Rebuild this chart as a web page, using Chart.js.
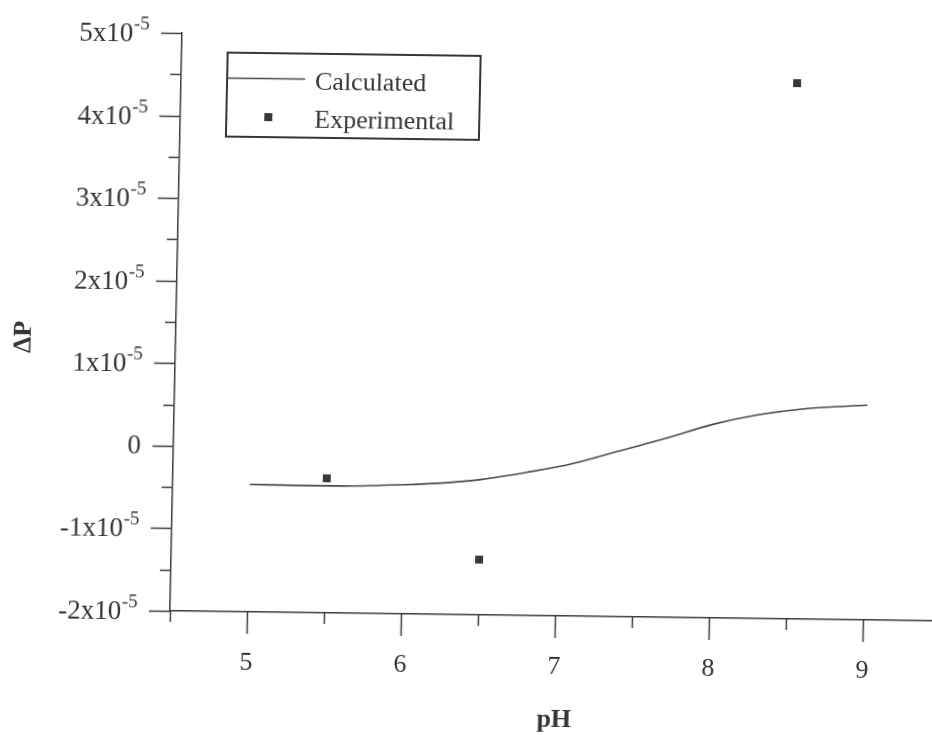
<!DOCTYPE html>
<html>
<head>
<meta charset="utf-8">
<title>ΔP vs pH</title>
<script src="https://cdn.jsdelivr.net/npm/chart.js@4.4.1/dist/chart.umd.min.js"></script>
<style>
  html, body { margin: 0; padding: 0; background: #fff; overflow: hidden; width: 932px; height: 735px; }
  /* the printed plot sits slightly tilted on the page */
  #wrap { position: absolute; left: 0; top: 0; width: 950px; height: 735px;
          transform-origin: 170px 611px; transform: matrix(1, 0.0131, -0.0209, 1, 0, 0); }
  canvas { display: block; }
</style>
</head>
<body>
<div id="wrap"><canvas id="chart" width="950" height="735"></canvas></div>
<script>
// Calculated curve
const calcPH = [5.0, 5.3, 5.6, 6.0, 6.2, 6.5, 6.8, 7.1, 7.4, 7.7, 8.0, 8.3, 8.6, 9.0];
const calcDP = [-0.455e-5, -0.46e-5, -0.46e-5, -0.435e-5, -0.415e-5, -0.36e-5, -0.265e-5,
                -0.15e-5, 0.01e-5, 0.17e-5, 0.345e-5, 0.47e-5, 0.55e-5, 0.60e-5];

// Experimental measurements
const expPH = [5.5, 6.5, 8.5];
const expDP = [-0.37e-5, -1.33e-5, 4.49e-5];

// Axis ticks
const xTickValues = [5, 6, 7, 8, 9];
const xTickLabels = ['5', '6', '7', '8', '9'];
const yTickValues = [-2e-5, -1e-5, 0, 1e-5, 2e-5, 3e-5, 4e-5, 5e-5];
const yTickLabels = ['-2x10^-5', '-1x10^-5', '0', '1x10^-5', '2x10^-5', '3x10^-5', '4x10^-5', '5x10^-5'];

const seriesNames = ['Calculated', 'Experimental'];
const axisTitles = { x: 'pH', y: 'ΔP' };

const INK = '#353535';
const AXIS = '#3d3d3d';
const SERIF = '"Liberation Serif", "Times New Roman", serif';

const frame = {
  id: 'frame',
  afterDraw(chart) {
    const { ctx, chartArea: area, scales: { x, y } } = chart;
    ctx.save();
    ctx.strokeStyle = AXIS;
    ctx.lineWidth = 1.5;
    ctx.fillStyle = INK;

    // x tick marks (major every 1, minor every 0.5)
    x.ticks.forEach(t => {
      const px = Math.round(x.getPixelForValue(t.value)) + 0.5;
      const major = xTickValues.some(v => Math.abs(v - t.value) < 1e-9);
      const len = major ? 22 : 11;
      ctx.beginPath();
      ctx.moveTo(px, area.bottom);
      ctx.lineTo(px, area.bottom + len);
      ctx.stroke();
    });
    // y tick marks
    y.ticks.forEach(t => {
      const py = Math.round(y.getPixelForValue(t.value)) + 0.5;
      const major = yTickValues.some(v => Math.abs(v - t.value) < 1e-12);
      const len = major ? 21 : 11;
      ctx.beginPath();
      ctx.moveTo(area.left, py);
      ctx.lineTo(area.left - len, py);
      ctx.stroke();
    });

    // x tick labels
    ctx.font = '26px ' + SERIF;
    ctx.textAlign = 'center';
    ctx.textBaseline = 'alphabetic';
    xTickValues.forEach((v, i) => {
      ctx.fillText(xTickLabels[i], x.getPixelForValue(v), area.bottom + 58);
    });

    // y tick labels with superscript exponents
    const right = area.left - 32.5;
    ctx.textAlign = 'right';
    yTickValues.forEach((v, i) => {
      const py = y.getPixelForValue(v);
      const parts = yTickLabels[i].split('^');
      if (parts.length === 2) {
        ctx.font = '19px ' + SERIF;
        const w = ctx.measureText(parts[1]).width;
        ctx.fillText(parts[1], right, py - 3);
        ctx.font = '27px ' + SERIF;
        ctx.fillText(parts[0], right - w - 0.5, py + 9);
      } else {
        ctx.font = '27px ' + SERIF;
        ctx.fillText(parts[0], right, py + 8);
      }
    });

    // axis titles
    ctx.font = 'bold 26px ' + SERIF;
    ctx.textAlign = 'center';
    ctx.fillText(axisTitles.x, 556, 722);
    ctx.save();
    ctx.translate(18, 339);
    ctx.rotate(-Math.PI / 2);
    ctx.textBaseline = 'middle';
    ctx.fillText(axisTitles.y, 0, 0);
    ctx.restore();

    // legend
    ctx.lineWidth = 2;
    ctx.strokeStyle = INK;
    ctx.strokeRect(216, 52, 253, 84);
    ctx.lineWidth = 1.6;
    ctx.strokeStyle = '#4a4a4a';
    ctx.beginPath();
    ctx.moveTo(216, 77.5);
    ctx.lineTo(294, 77.5);
    ctx.stroke();
    ctx.fillStyle = '#383838';
    ctx.fillRect(254, 112, 8, 8);
    ctx.fillStyle = INK;
    ctx.font = '26px ' + SERIF;
    ctx.textAlign = 'left';
    ctx.textBaseline = 'alphabetic';
    ctx.fillText(chart.data.datasets[0].label, 304, 88);
    ctx.fillText(chart.data.datasets[1].label, 304, 126);

    ctx.restore();
  }
};

new Chart(document.getElementById('chart'), {
  type: 'scatter',
  data: {
    datasets: [
      {
        label: seriesNames[0],
        data: calcPH.map((p, i) => ({ x: p, y: calcDP[i] })),
        showLine: true,
        borderColor: '#4a4a4a',
        borderWidth: 1.6,
        pointRadius: 0,
        cubicInterpolationMode: 'monotone',
        fill: false
      },
      {
        label: seriesNames[1],
        data: expPH.map((p, i) => ({ x: p, y: expDP[i] })),
        showLine: false,
        pointStyle: 'rect',
        pointRadius: 5.6,
        pointBorderWidth: 0,
        backgroundColor: '#383838',
        borderColor: '#383838'
      }
    ]
  },
  options: {
    responsive: false,
    animation: false,
    devicePixelRatio: 1,
    layout: { padding: { top: 33, right: 10, left: 0, bottom: 0 } },
    plugins: { legend: { display: false }, tooltip: { enabled: false } },
    scales: {
      x: {
        type: 'linear', min: 4.5, max: 9.5,
        ticks: { display: false, stepSize: 0.5 },
        grid: { display: false, drawTicks: false },
        border: { color: AXIS, width: 1.5 },
        afterFit(s) { s.height = 124; }
      },
      y: {
        type: 'linear', min: -2e-5, max: 5e-5,
        ticks: { display: false, stepSize: 5e-6 },
        grid: { display: false, drawTicks: false },
        border: { color: AXIS, width: 1.5 },
        afterFit(s) { s.width = 170; }
      }
    }
  },
  plugins: [frame]
});
</script>
</body>
</html>
